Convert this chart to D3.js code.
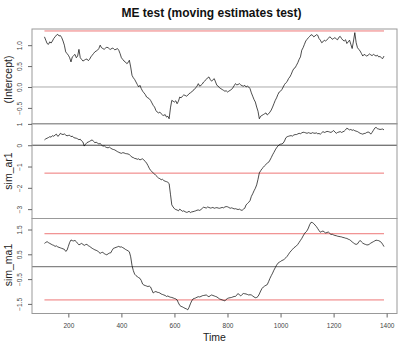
<!DOCTYPE html>
<html><head><meta charset="utf-8">
<script src="https://cdn.jsdelivr.net/npm/d3@7"></script>
<style>body{margin:0;background:#fff}svg{display:block}</style>
</head><body><svg id="c" width="400" height="345"></svg>
<script>
const timeStart = 110, timeStep = 5;
const intercept = [1.20,1.12,1.04,1.02,1.08,1.05,1.10,1.16,1.20,1.24,
1.26,1.22,1.23,1.18,1.10,1.00,0.84,0.80,0.76,0.70,
0.60,0.72,0.75,0.78,0.70,0.74,0.90,0.70,0.66,0.62,
0.64,0.66,0.67,0.63,0.66,0.72,0.76,0.80,0.84,0.86,
0.88,0.92,1.00,0.94,0.92,0.90,0.93,0.95,0.94,0.91,
0.90,0.93,0.92,0.89,0.90,0.92,0.88,0.80,0.70,0.66,
0.62,0.60,0.56,0.58,0.64,0.48,0.28,0.22,0.18,0.12,
0.06,0.00,0.04,-0.04,-0.10,-0.14,-0.18,-0.24,-0.26,-0.28,
-0.32,-0.38,-0.44,-0.48,-0.56,-0.60,-0.62,-0.60,-0.64,-0.67,
-0.68,-0.66,-0.72,-0.70,-0.76,-0.50,-0.32,-0.34,-0.36,-0.33,
-0.40,-0.34,-0.24,-0.26,-0.22,-0.19,-0.20,-0.22,-0.20,-0.16,
-0.14,-0.12,-0.08,-0.06,-0.02,0.02,0.08,0.02,0.04,0.07,
0.12,0.15,0.18,0.22,0.24,0.18,0.14,0.17,0.20,0.12,
0.04,0.02,-0.02,-0.04,-0.06,-0.08,-0.10,-0.09,-0.12,-0.10,
-0.08,-0.06,-0.02,0.03,0.08,0.05,0.06,0.08,0.05,0.03,
0.02,0.04,0.00,0.02,0.00,-0.04,-0.14,-0.22,-0.30,-0.36,
-0.48,-0.58,-0.76,-0.70,-0.68,-0.66,-0.64,-0.62,-0.67,-0.64,
-0.60,-0.55,-0.48,-0.40,-0.32,-0.26,-0.18,-0.12,-0.10,-0.06,
0.00,0.06,0.10,0.13,0.20,0.24,0.30,0.38,0.44,0.46,
0.52,0.58,0.66,0.72,0.88,0.94,1.02,1.10,1.14,1.18,
1.21,1.25,1.24,1.20,1.22,1.25,1.24,1.16,1.12,1.06,
1.08,1.12,1.10,1.13,1.16,1.20,1.18,1.14,1.16,1.18,
1.15,1.13,1.19,1.21,1.16,1.12,1.10,1.13,1.04,1.08,
1.12,1.02,0.92,1.10,1.30,1.06,0.94,0.90,0.86,0.80,
0.74,0.78,0.76,0.74,0.76,0.79,0.77,0.75,0.78,0.76,
0.74,0.76,0.72,0.73,0.70,0.68,0.74];
const simAr1 = [0.25,0.30,0.33,0.36,0.40,0.38,0.45,0.42,0.48,0.52,
0.42,0.46,0.56,0.52,0.50,0.53,0.48,0.44,0.46,0.47,
0.40,0.43,0.36,0.34,0.33,0.30,0.26,0.28,0.20,0.15,
-0.04,0.05,0.12,0.15,0.18,0.22,0.25,0.18,0.12,0.14,
0.10,0.06,0.08,0.02,-0.05,-0.02,-0.08,-0.11,-0.12,-0.09,
-0.14,-0.18,-0.20,-0.22,-0.26,-0.30,-0.33,-0.36,-0.38,-0.35,
-0.36,-0.39,-0.40,-0.41,-0.44,-0.50,-0.56,-0.58,-0.62,-0.63,
-0.66,-0.64,-0.69,-0.66,-0.64,-0.70,-0.76,-0.84,-0.95,-1.08,
-1.18,-1.24,-1.30,-1.35,-1.42,-1.48,-1.54,-1.57,-1.62,-1.60,
-1.66,-1.69,-1.71,-1.74,-1.80,-2.30,-2.80,-2.90,-2.98,-3.02,
-3.04,-3.08,-3.00,-3.05,-3.10,-3.08,-3.12,-3.15,-3.14,-3.10,
-3.16,-3.13,-3.12,-3.10,-3.08,-3.05,-3.04,-3.06,-3.02,-2.96,
-2.91,-2.93,-2.95,-2.90,-2.92,-2.95,-2.94,-2.92,-2.96,-2.94,
-2.93,-2.95,-2.96,-2.94,-2.92,-2.94,-2.90,-2.88,-2.89,-2.92,
-2.96,-2.94,-2.96,-2.99,-2.98,-3.00,-3.02,-3.00,-3.04,-3.06,
-3.00,-2.96,-2.80,-2.74,-2.68,-2.60,-2.40,-2.28,-2.14,-2.02,
-1.86,-1.60,-1.30,-1.20,-1.10,-1.04,-0.96,-0.90,-0.84,-0.80,
-0.70,-0.58,-0.45,-0.34,-0.22,-0.12,-0.04,0.02,0.05,0.06,
0.10,0.20,0.35,0.40,0.42,0.44,0.45,0.43,0.48,0.50,
0.50,0.53,0.56,0.54,0.58,0.61,0.60,0.58,0.56,0.59,
0.57,0.55,0.59,0.57,0.56,0.58,0.54,0.55,0.52,0.58,
0.64,0.60,0.62,0.65,0.64,0.62,0.60,0.64,0.69,0.62,
0.56,0.60,0.62,0.64,0.60,0.63,0.66,0.72,0.80,0.76,
0.72,0.74,0.70,0.72,0.68,0.66,0.64,0.60,0.56,0.54,
0.52,0.55,0.56,0.60,0.62,0.60,0.52,0.60,0.70,0.80,
0.84,0.78,0.76,0.74,0.75,0.76,0.72];
const simMa1 = [0.94,0.98,1.01,0.97,0.94,0.91,0.88,0.86,0.82,0.84,
0.80,0.78,0.76,0.74,0.72,0.70,0.62,0.66,0.82,0.98,
1.08,1.05,1.04,1.06,1.01,0.94,0.88,0.91,0.94,0.90,
0.86,0.89,0.90,0.85,0.82,0.78,0.74,0.71,0.68,0.66,
0.64,0.58,0.54,0.57,0.58,0.53,0.50,0.48,0.52,0.55,
0.56,0.66,0.74,0.76,0.78,0.80,0.82,0.79,0.80,0.77,
0.74,0.70,0.67,0.64,0.60,0.40,0.05,-0.16,-0.30,-0.36,
-0.40,-0.44,-0.47,-0.56,-0.70,-0.74,-0.76,-0.78,-0.80,-0.78,
-0.82,-0.94,-1.06,-1.02,-1.00,-1.03,-1.04,-1.06,-1.10,-1.12,
-1.14,-1.16,-1.20,-1.18,-1.21,-1.23,-1.24,-1.26,-1.28,-1.30,
-1.34,-1.46,-1.56,-1.60,-1.62,-1.65,-1.68,-1.70,-1.74,-1.64,
-1.50,-1.38,-1.30,-1.28,-1.26,-1.23,-1.21,-1.22,-1.20,-1.17,
-1.16,-1.15,-1.14,-1.18,-1.21,-1.17,-1.14,-1.16,-1.18,-1.20,
-1.22,-1.26,-1.30,-1.32,-1.34,-1.36,-1.38,-1.32,-1.28,-1.26,
-1.25,-1.24,-1.22,-1.20,-1.20,-1.14,-1.08,-1.14,-1.18,-1.12,
-1.08,-1.09,-1.10,-1.12,-1.14,-1.13,-1.14,-1.18,-1.22,-1.25,
-1.24,-1.20,-1.10,-0.98,-0.88,-0.82,-0.78,-0.75,-0.72,-0.60,
-0.47,-0.36,-0.26,-0.14,-0.04,0.06,0.14,0.18,0.21,0.25,
0.27,0.31,0.36,0.42,0.50,0.58,0.64,0.70,0.76,0.80,
0.84,0.90,0.98,1.06,1.14,1.24,1.33,1.40,1.45,1.56,
1.70,1.79,1.78,1.74,1.68,1.62,1.54,1.46,1.39,1.42,
1.44,1.40,1.36,1.38,1.40,1.35,1.30,1.31,1.28,1.26,
1.25,1.23,1.22,1.21,1.20,1.18,1.17,1.15,1.14,1.11,
1.09,1.05,1.00,0.96,0.92,0.90,0.92,1.00,1.06,1.00,
0.95,0.92,0.90,0.88,0.88,0.91,0.95,0.98,1.01,1.04,
1.07,1.06,1.05,1.02,0.98,0.90,0.81];
const panelNames = ["(Intercept)","sim_ar1","sim_ma1"];
const criticalUpper = [1.34, null, 1.33];
const criticalLower = [null, -1.31, -1.34];
const yTicks1 = [-0.5,0,0.5,1.0];
const yTicks2 = [-3,-2,-1,0,1];
const yTicks3 = [-1.5,-0.5,0.5,1.5];
const xTicks = [200,400,600,800,1000,1200,1400];
const titleText = "ME test (moving estimates test)";
const xTitle = "Time";

const svg = d3.select("#c");
const L = 32, R = 397, panelTop = [29,123.5,218.5], PH = 95;
const labelShift = [3, 0, -1];
const zeroColor = ["#aaa", "#444", "#666"];
const font = "'Liberation Sans', Arial, sans-serif";
const times = intercept.map((_, i) => timeStart + i * timeStep);
const x = d3.scaleLinear().domain([63,1439]).range([L,R]);
const series = [intercept, simAr1, simMa1];
const domains = [[-0.885,1.387],[-3.44,1.02],[-1.887,1.944]];
const tickSets = [yTicks1, yTicks2, yTicks3];
const fmts = [d3.format(".1f"), d3.format("d"), d3.format(".1f")];

svg.append("text").attr("x", (L+R)/2 - 3).attr("y", 17).attr("text-anchor","middle")
  .attr("font-family", font).attr("font-weight","bold").attr("font-size", 12).attr("fill","#111").text(titleText);

series.forEach((vals, p) => {
  const top = panelTop[p];
  const y = d3.scaleLinear().domain(domains[p]).range([top+PH, top]);
  const g = svg.append("g");
  g.append("line").attr("x1",L).attr("x2",R).attr("y1",y(0)).attr("y2",y(0)).attr("stroke",zeroColor[p]).attr("stroke-width",1);
  [criticalUpper[p], criticalLower[p]].forEach(c => {
    if (c === null) return;
    g.append("line").attr("x1",x(times[0])).attr("x2",x(times[times.length-1])).attr("y1",y(c)).attr("y2",y(c))
      .attr("stroke","#ee7777").attr("stroke-width",1);
  });
  const line = d3.line().x((d,i)=>x(times[i])).y(d=>y(d));
  g.append("path").datum(vals).attr("d",line).attr("fill","none").attr("stroke","#000").attr("stroke-width",0.7);
  g.append("rect").attr("x",L).attr("y",top).attr("width",R-L).attr("height",PH).attr("fill","none").attr("stroke","#999").attr("stroke-width",1);
  const ax = g.append("g").attr("transform",`translate(${L},0)`).call(d3.axisLeft(y).tickValues(tickSets[p]).tickFormat(fmts[p]).tickSize(4).tickPadding(3));
  ax.select(".domain").remove();
  ax.selectAll(".tick line").attr("stroke","#666");
  ax.selectAll(".tick text").attr("font-family",font).attr("font-size",6.5).attr("fill","#444")
    .attr("text-anchor","middle").attr("x",-12).attr("dy",0)
    .attr("transform","rotate(-90,-12,0)")
    .attr("dominant-baseline","middle");
  svg.append("text").attr("transform",`translate(9,${top+PH/2+labelShift[p]}) rotate(-90)`).attr("text-anchor","middle")
    .attr("dominant-baseline","middle").attr("font-family",font).attr("font-size",10.5).attr("fill","#222").text(panelNames[p]);
});

const xa = svg.append("g").attr("transform",`translate(0,${panelTop[2]+PH})`).call(d3.axisBottom(x).tickValues(xTicks).tickFormat(d3.format("d")).tickSize(4).tickPadding(6));
xa.select(".domain").remove();
xa.selectAll(".tick line").attr("stroke","#666");
xa.selectAll(".tick text").attr("font-family",font).attr("font-size",6.5).attr("fill","#444");
svg.append("text").attr("x",(L+R)/2).attr("y",341).attr("text-anchor","middle").attr("font-family",font).attr("font-size",10.5).attr("fill","#222").text(xTitle);
</script></body></html>
